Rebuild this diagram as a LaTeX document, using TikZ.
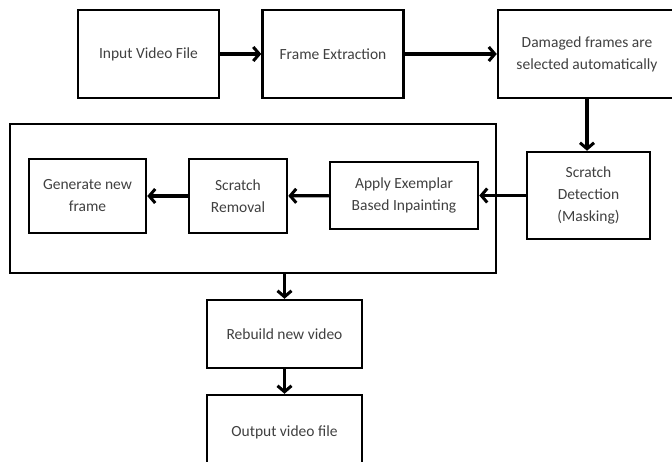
\documentclass[tikz,border=0pt]{standalone}
\usepackage{fontspec}
\setmainfont{Carlito}
\usepackage{tikz}
\usetikzlibrary{arrows.meta}
\definecolor{ink}{RGB}{64, 64, 64}

\tikzset{
  procbox/.style={draw, line width=2.5pt, align=center, inner sep=2pt,
    text=ink, font=\fontsize{15.5}{22}\selectfont},
  flow/.style={line width=3.2pt, -{Straight Barb[length=6pt, width=14pt, line width=3pt]}}
}

\begin{document}
\begin{tikzpicture}[x=1pt, y=-1pt]
  \useasboundingbox (0, 0) rectangle (672, 461);

  % Top row
  \node [procbox, minimum width=141, minimum height=88] (input) at (148.5, 54) {Input Video File};
  \node [procbox, minimum width=141, minimum height=88] (extract) at (333, 54) {Frame Extraction};
  \node [procbox, minimum width=178, minimum height=88] (damaged) at (587, 54)
    {Damaged frames are\\selected automatically};

  % Detection
  \node [procbox, minimum width=123, minimum height=87] (detect) at (588.5, 195.5)
    {Scratch\\Detection\\(Masking)};

  % Inpainting stage
  \node [draw, line width=2.5pt, minimum width=486, minimum height=149] (stage) at (253, 198.5) {};
  \node [procbox, minimum width=148, minimum height=67] (inpaint) at (404, 195.5)
    {Apply Exemplar\\Based Inpainting};
  \node [procbox, minimum width=98, minimum height=74] (removal) at (238, 196)
    {Scratch\\Removal};
  \node [procbox, minimum width=117, minimum height=74] (newframe) at (87.5, 196)
    {Generate new\\frame};

  % Output
  \node [procbox, minimum width=155, minimum height=68] (rebuild) at (284.5, 334) {Rebuild new video};
  \node [procbox, minimum width=155, minimum height=74] (output) at (284.5, 432) {Output video file};

  \draw [flow] (input) -- (extract);
  \draw [flow] (extract) -- (damaged);
  \draw [flow] (damaged.south -| 587, 0) -- (detect.north -| 587, 0);
  \draw [flow] (detect) -- (inpaint);
  \draw [flow] (inpaint) -- (removal);
  \draw [flow] (removal) -- (newframe);
  \draw [flow] (rebuild.north |- stage.south) -- (rebuild.north);
  \draw [flow] (rebuild) -- (output);
\end{tikzpicture}
\end{document}
